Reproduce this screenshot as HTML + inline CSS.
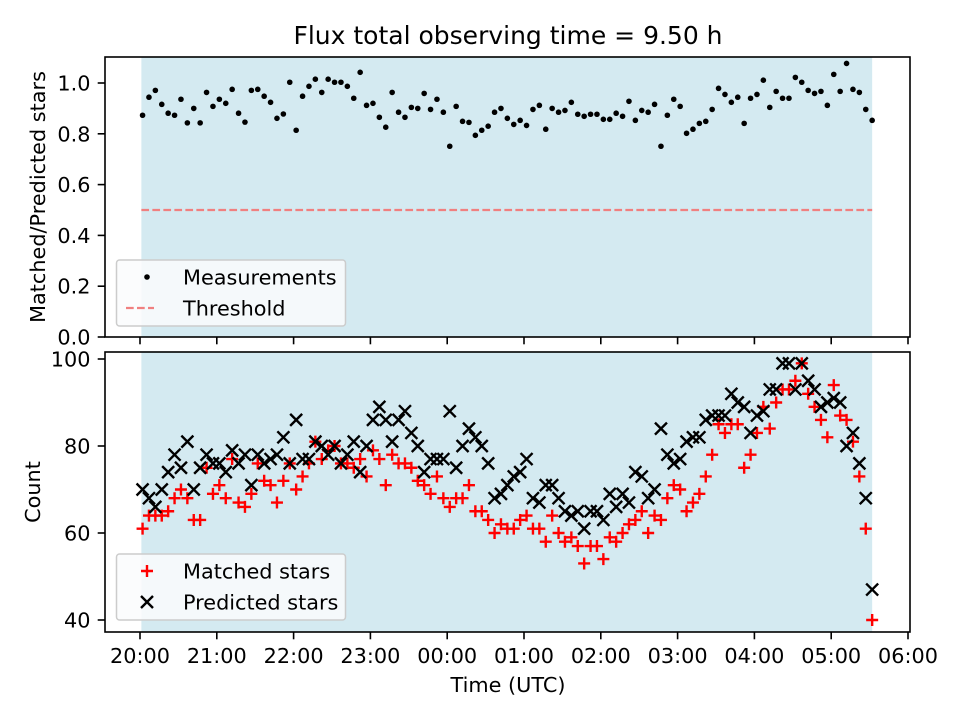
<!DOCTYPE html>
<html><head><meta charset="utf-8"><style>
body{margin:0;background:#fff}
svg{display:block;font-family:"DejaVu Sans","Liberation Sans",sans-serif}
</style></head><body>
<svg id="chart" width="960" height="720" viewBox="0 0 960 720">
<rect width="960" height="720" fill="#fff"/>
<text x="508" y="44" text-anchor="middle" font-size="25">Flux total observing time = 9.50 h</text>
<g id="top"></g>
<g id="bot"></g>
<text transform="translate(45,197) rotate(-90)" text-anchor="middle" font-size="20.8">Matched/Predicted stars</text>
<text transform="translate(40,492) rotate(-90)" text-anchor="middle" font-size="20.8">Count</text>
<text x="508" y="692" text-anchor="middle" font-size="20.8">Time (UTC)</text>
</svg>
<script>
const startHour = 2/60;          // first sample at 20:02
const stepMin = 5;
const ratio = [0.873,0.944,0.971,0.916,0.881,0.873,0.936,0.843,0.900,0.843,0.963,0.908,0.936,0.920,0.975,0.881,0.846,0.971,0.975,0.948,0.924,0.861,0.878,1.003,0.814,0.948,0.987,1.015,0.963,1.015,1.003,1.003,0.987,0.940,1.042,0.912,0.920,0.865,0.826,0.963,0.885,0.865,0.904,0.900,0.959,0.896,0.936,0.885,0.751,0.908,0.849,0.845,0.794,0.814,0.830,0.885,0.900,0.861,0.837,0.853,0.833,0.896,0.912,0.818,0.900,0.885,0.892,0.924,0.877,0.869,0.877,0.877,0.857,0.857,0.881,0.869,0.928,0.853,0.892,0.885,0.916,0.751,0.873,0.936,0.908,0.802,0.818,0.841,0.849,0.896,0.979,0.955,0.924,0.944,0.841,0.940,0.955,1.011,0.904,0.967,0.940,0.940,1.022,1.003,0.971,0.959,0.967,0.912,1.034,0.967,1.077,0.975,0.963,0.896,0.853];
const matched = [61,64,64,64,65,68,70,68,63,63,75,69,71,68,77,67,66,69,76,72,71,67,72,76,70,73,76,81,77,79,80,76,76,75,77,73,79,77,71,78,76,76,75,72,71,69,73,68,66,68,68,71,65,65,63,60,62,61,61,63,64,61,61,58,64,60,58,59,57,53,57,57,54,59,58,60,62,63,65,60,64,63,68,71,70,65,67,69,73,78,85,83,85,85,75,78,83,89,84,90,93,93,95,99,92,89,86,82,94,87,86,81,73,61,40];
const predicted = [70,68,66,70,74,78,75,81,70,75,78,76,76,74,79,76,78,71,78,76,77,78,82,76,86,77,77,81,80,78,80,76,78,81,74,80,86,89,86,81,86,88,83,80,74,77,77,77,88,75,80,84,82,80,76,68,69,71,73,74,77,68,67,71,71,68,65,64,65,61,65,65,63,69,66,69,67,74,73,68,70,84,78,76,77,81,82,82,86,87,87,87,92,90,89,83,87,88,93,93,99,99,93,99,95,93,89,90,91,90,80,83,76,68,47];
const yTopTicks = [0.0,0.2,0.4,0.6,0.8,1.0];
const yBotTicks = [40,60,80,100];
const xTickLabels = ["20:00","21:00","22:00","23:00","00:00","01:00","02:00","03:00","04:00","05:00","06:00"];

const NS="http://www.w3.org/2000/svg";
const X0=105,X1=910;
const xHour=h=>140+h*76.8;
const yTop=v=>337-v*254;
const yBot=v=>620-(v-40)*4.35;
function mk(tag,attrs,parent){const e=document.createElementNS(NS,tag);for(const k in attrs)e.setAttribute(k,attrs[k]);parent.appendChild(e);return e;}
const tHour=i=>startHour+i*stepMin/60;
const nPts=ratio.length;
const spanL=xHour(tHour(0))-1.2, spanR=xHour(tHour(nPts-1));
const M=6, SW=2.4;

function panel(g,top,bottom,ticks,yf,fmt,showLabels,name){
  const bg=mk('rect',{x:spanL,y:top,width:spanR-spanL,height:bottom-top,fill:'#d4eaf1'},g);
  
  
  ticks.forEach(t=>{
    const y=yf(t);
    const tl=mk('line',{x1:X0-7.3,x2:X0,y1:y,y2:y,stroke:'#000','stroke-width':1.6},g);
    
    
    const tx=mk('text',{x:X0-14.5,y:y+7.5,'text-anchor':'end','font-size':20.8},g);
    
    
    tx.textContent=fmt(t);
  });
  xTickLabels.forEach((lab,i)=>{
    const x=xHour(i);
    const tl=mk('line',{x1:x,x2:x,y1:bottom,y2:bottom+7.3,stroke:'#000','stroke-width':1.6},g);
    
    
    if(showLabels){
      const tx=mk('text',{x:x,y:bottom+31,'text-anchor':'middle','font-size':20.8},g);
      
      
      tx.textContent=lab;
    }
  });
}
const gT=document.getElementById('top'), gB=document.getElementById('bot');
panel(gT,57,337,yTopTicks,yTop,v=>v.toFixed(1),false,'top');
panel(gB,352,632,yBotTicks,yBot,v=>String(v),true,'bottom');

const th=mk('line',{x1:spanL,x2:spanR,y1:yTop(0.5),y2:yTop(0.5),stroke:'#f08080','stroke-width':2.2,'stroke-dasharray':'7.7,3.3'},gT);



ratio.forEach((v,i)=>{
  const c=mk('circle',{cx:xHour(tHour(i)),cy:yTop(v),r:2.8,fill:'#000'},gT);
  
  
});
matched.forEach((v,i)=>{
  const x=xHour(tHour(i)),y=yBot(v);
  const p=mk('path',{d:`M${x-M} ${y}H${x+M}M${x} ${y-M}V${y+M}`,stroke:'#f00','stroke-width':SW,fill:'none'},gB);
  
  
});
predicted.forEach((v,i)=>{
  const x=xHour(tHour(i)),y=yBot(v);
  const p=mk('path',{d:`M${x-M} ${y-M}L${x+M} ${y+M}M${x-M} ${y+M}L${x+M} ${y-M}`,stroke:'#000','stroke-width':SW,fill:'none'},gB);
  
  
});

[[gT,57,337],[gB,352,632]].forEach(([g,t,b])=>{
  const r=mk('rect',{x:X0,y:t,width:X1-X0,height:b-t,fill:'none',stroke:'#000','stroke-width':1.6},g);
  
  
});

function legend(g,y0,entries,name){
  const lg=mk('g',{},g);
  
  
  mk('rect',{x:116.5,y:y0,width:229,height:66,rx:3,fill:'#fafcfd','fill-opacity':0.85,stroke:'#ccc','stroke-width':1.5},lg);
  entries.forEach((e,k)=>{
    const cy=y0+17+k*31;
    e.draw(lg,147,cy);
    const t=mk('text',{x:183,y:cy+7.5,'font-size':20.8},lg);
    
    
    t.textContent=e.label;
  });
}
legend(gT,260,[
  {label:'Measurements',draw:(g,x,y)=>mk('circle',{cx:x,cy:y,r:2.8,fill:'#000'},g)},
  {label:'Threshold',draw:(g,x,y)=>mk('line',{x1:x-21,x2:x+7,y1:y,y2:y,stroke:'#f08080','stroke-width':2.2,'stroke-dasharray':'7.7,3.3'},g)}
],'top-legend');
legend(gB,554,[
  {label:'Matched stars',draw:(g,x,y)=>mk('path',{d:`M${x-M} ${y}H${x+M}M${x} ${y-M}V${y+M}`,stroke:'#f00','stroke-width':SW},g)},
  {label:'Predicted stars',draw:(g,x,y)=>mk('path',{d:`M${x-M} ${y-M}L${x+M} ${y+M}M${x-M} ${y+M}L${x+M} ${y-M}`,stroke:'#000','stroke-width':SW},g)}
],'bottom-legend');
</script>
</body></html>
